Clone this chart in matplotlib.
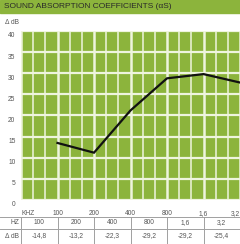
import numpy as np
import matplotlib.pyplot as plt
import matplotlib.transforms as mtransforms

# data
octave_pos = [1, 2, 3, 4, 5, 6]          # 100 Hz ... 3,2 kHz (0 = left edge)
curve_db = [13.5, 11.2, 21.2, 28.8, 29.8, 27.8]
tick_labels = ["KHZ", "100", "200", "400", "800", "1,6", "3,2"]
y_ticks = [0, 5, 10, 15, 20, 25, 30, 35, 40]
table_hz = ["100", "200", "400", "800", "1,6", "3,2"]
table_db = ["-14,8", "-13,2", "-22,3", "-29,2", "-29,2", "-25,4"]

green = "#8cb43c"
grid_col = "#eef4de"
text_col = "#555555"
font = "Liberation Sans"

W, H = 240, 244
fig = plt.figure(figsize=(W / 100, H / 100), dpi=100)

# title bar
fig.patches.append(plt.Rectangle((0, 1 - 13 / H), 1, 13 / H, transform=fig.transFigure,
                                 color=green, zorder=0))
fig.text(4 / W, 1 - 6.5 / H, "SOUND ABSORPTION COEFFICIENTS (\u03b1S)", fontsize=6.0,
         family=font, color="#2a2a2a", va="center", ha="left")
fig.text(5 / W, 1 - 22 / H, "\u0394 dB", fontsize=4.8, family=font, color=text_col,
         va="center", ha="left")

left, right, top, bottom = 21, 240, 31, 200
ax = fig.add_axes([left / W, 1 - bottom / H, (right - left) / W, (bottom - top) / H])
ax.set_facecolor(green)
ax.set_xlim(0, 6)
ax.set_ylim(0, 40)
for s in ax.spines.values():
    s.set_visible(False)

ax.set_xticks(range(7))
ax.set_xticklabels(tick_labels, fontsize=4.8, family=font, color=text_col)
ax.set_xticks(np.arange(0, 6, 1 / 3), minor=True)
ax.set_yticks(y_ticks)
ax.set_yticklabels([str(v) for v in y_ticks], fontsize=4.8, family=font, color=text_col)
ax.tick_params(which="both", length=0)
ax.tick_params(axis="x", pad=11)
ax.tick_params(axis="y", pad=4)
xl = ax.get_xticklabels()
for lab in xl:
    lab.set_va("baseline")
xl[0].set_ha("left")
xl[-1].set_ha("right")
off = mtransforms.ScaledTranslation(0, -4 / 100, fig.dpi_scale_trans)
for lab in ax.get_yticklabels():
    lab.set_transform(lab.get_transform() + off)

ax.grid(which="major", axis="x", color=grid_col, lw=1.8)
ax.grid(which="minor", axis="x", color=grid_col, lw=1.1)
ax.grid(which="major", axis="y", color=grid_col, lw=1.6)
ax.set_axisbelow(True)

ax.plot(octave_pos, curve_db, color="#111111", lw=1.6, solid_joinstyle="miter",
        clip_on=True, zorder=3)

# table below the chart
tcol = "#a0a0a0"
col_w = (right - left) / 6
row_top, row_mid, row_bot = 217, 229, 244
for yy in (row_top, row_mid):
    fig.add_artist(plt.Line2D([0, 1], [1 - yy / H] * 2, transform=fig.transFigure,
                              color=tcol, lw=0.7))
for i in range(6):
    xx = left + i * col_w
    fig.add_artist(plt.Line2D([xx / W] * 2, [1 - row_top / H, 1 - row_bot / H],
                              transform=fig.transFigure, color=tcol, lw=0.7))
fig.text((left - 2) / W, 1 - 223 / H, "HZ", fontsize=4.8, family=font, color=text_col,
         ha="right", va="center")
fig.text((left - 2) / W, 1 - 236 / H, "\u0394 dB", fontsize=4.8, family=font,
         color=text_col, ha="right", va="center")
for i in range(6):
    cx = (left + (i + 0.5) * col_w) / W
    fig.text(cx, 1 - 223 / H, table_hz[i], fontsize=4.8, family=font, color=text_col,
             ha="center", va="center")
    fig.text(cx, 1 - 236 / H, table_db[i], fontsize=4.8, family=font, color=text_col,
             ha="center", va="center")

fig.savefig("out.png", dpi=100)
